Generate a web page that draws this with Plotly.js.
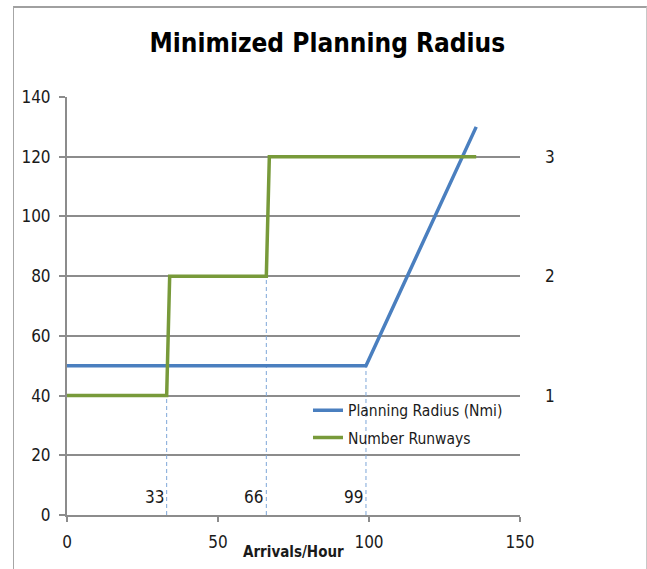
<!DOCTYPE html>
<html>
<head>
<meta charset="utf-8">
<script src="https://cdn.plot.ly/plotly-3.0.1.min.js"></script>
<style>
  html, body { margin: 0; padding: 0; background: #ffffff; }
  #wrap { position: relative; width: 647px; height: 569px; }
  #chart { position: absolute; left: 0; top: 0; width: 647px; height: 569px; }
  #frame { position: absolute; left: 13px; top: 6px; width: 632px; height: 580px;
           border-left: 1px solid #a6a6a6; border-top: 2px solid #a0a0a0; border-right: 1px solid #c8c8c8;
           pointer-events: none; }
</style>
</head>
<body>
<div id="wrap">
  <div id="chart"></div>
  <div id="frame"></div>
</div>
<script>
// Planning radius (Nmi) versus arrival rate
const radiusX = [0, 99, 135.5];
const radiusY = [50, 50, 130];

// Number of runways (right-hand axis), stepping up with demand
const runwaysX = [0, 33, 34, 66, 67, 135.5];
const runwaysY = [1, 1, 2, 2, 3, 3];

// Threshold guides: arrival rate and the left-axis height where each guide meets its line
const guideX = [33, 66, 99];
const guideTop = [40, 80, 50];
const guideLabels = ['33', '66', '99'];

const leftTicks = [0, 20, 40, 60, 80, 100, 120, 140];
const rightTicks = [1, 2, 3];
const xTicks = [0, 50, 100, 150];

const FONT = '"Liberation Sans Narrow", "Arial Narrow", "DejaVu Sans Condensed", "Open Sans", sans-serif';
const GRID = '#8c8c8c';
const INK = '#1a1a1a';

const traces = [];

// dashed guide lines from the axis up to the curves
guideX.forEach((gx, i) => {
  traces.push({
    x: [gx, gx], y: [0, guideTop[i]],
    mode: 'lines', showlegend: false, hoverinfo: 'skip',
    line: { color: '#7ea6d8', width: 1, dash: '4px,3px' }
  });
});

traces.push({
  name: 'Planning Radius (Nmi)',
  x: radiusX, y: radiusY,
  mode: 'lines', legendgroup: 'a',
  line: { color: '#4a7fbf', width: 3.5 }
});

traces.push({
  name: 'Number Runways',
  x: runwaysX, y: runwaysY, yaxis: 'y2',
  mode: 'lines', legendgroup: 'b',
  line: { color: '#789a3a', width: 3.5 }
});

const annotations = guideX.map((gx, i) => ({
  x: gx, y: 6, xref: 'x', yref: 'y',
  text: guideLabels[i], showarrow: false,
  xanchor: 'right', yanchor: 'middle', xshift: -1,
  font: { family: FONT, size: 17, color: INK }
}));

// x-axis title sits close under the tick labels
annotations.push({
  x: 0.5, y: -0.088, xref: 'paper', yref: 'paper',
  text: '<b>Arrivals/Hour</b>', showarrow: false,
  xanchor: 'center', yanchor: 'middle',
  font: { family: FONT, size: 15, color: INK }
});

const layout = {
  width: 647, height: 569,
  margin: { l: 67, r: 127, t: 97, b: 54, pad: 0 },
  paper_bgcolor: '#ffffff', plot_bgcolor: '#ffffff',
  font: { family: FONT, size: 17, color: INK },
  title: {
    text: '<b>Minimized Planning Radius</b>',
    font: { family: FONT, size: 26, color: '#000000' },
    xref: 'container', x: 0.506, xanchor: 'center',
    yref: 'container', y: 0.925, yanchor: 'middle'
  },
  xaxis: {
    range: [0, 150], tickvals: xTicks, ticktext: xTicks.map(String),
    showgrid: false, zeroline: false,
    showline: true, linecolor: GRID, linewidth: 2,
    ticks: 'outside', ticklen: 5, tickwidth: 2, tickcolor: GRID,
    ticklabelstandoff: 6
  },
  yaxis: {
    range: [0, 140], tickvals: leftTicks, ticktext: leftTicks.map(String),
    showgrid: true, gridcolor: GRID, gridwidth: 2,
    zeroline: false,
    showline: true, linecolor: GRID, linewidth: 2,
    ticks: 'outside', ticklen: 6, tickwidth: 2, tickcolor: GRID,
    ticklabelstandoff: 5
  },
  yaxis2: {
    overlaying: 'y', side: 'right',
    range: [0, 3.5], tickvals: rightTicks, ticktext: rightTicks.map(String),
    showgrid: false, zeroline: false, showline: false, ticks: '',
    ticklabelstandoff: 24
  },
  showlegend: true,
  legend: {
    x: 0.532, y: 0.29, xanchor: 'left', yanchor: 'top',
    bgcolor: 'rgba(255,255,255,0)', borderwidth: 0,
    font: { family: FONT, size: 15.5, color: INK },
    traceorder: 'grouped', tracegroupgap: 4,
    itemwidth: 30
  },
  annotations: annotations
};

Plotly.newPlot('chart', traces, layout, { staticPlot: true, displayModeBar: false });
</script>
</body>
</html>
